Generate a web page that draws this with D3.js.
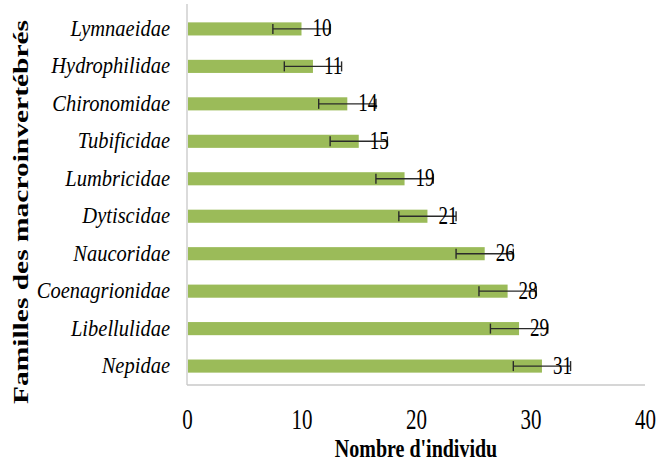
<!DOCTYPE html>
<html>
<head>
<meta charset="utf-8">
<script src="https://cdn.jsdelivr.net/npm/d3@7"></script>
<style>
  html, body { margin: 0; padding: 0; background: #ffffff; }
  svg { display: block; }
  text { font-family: "Liberation Serif", "Times New Roman", serif; fill: #000; }
</style>
</head>
<body>
<svg id="chart" width="657" height="463"></svg>
<script>
const families = ["Lymnaeidae", "Hydrophilidae", "Chironomidae", "Tubificidae", "Lumbricidae",
                  "Dytiscidae", "Naucoridae", "Coenagrionidae", "Libellulidae", "Nepidae"];
const counts = [10, 11, 14, 15, 19, 21, 26, 28, 29, 31];
const errors = [2.5, 2.5, 2.5, 2.5, 2.5, 2.5, 2.5, 2.5, 2.5, 2.5];
const xTicks = [0, 10, 20, 30, 40];
const xTitle = "Nombre d'individu";
const yTitle = "Familles des macroinvertébrés";

const data = families.map((f, i) => ({ name: f, value: counts[i], err: errors[i] }));

const svg = d3.select("#chart");
const mLeft = 187, mRight = 645, mTop = 10, mBottom = 385;

const x = d3.scaleLinear().domain([0, 40]).range([mLeft, mRight]);
const y = d3.scaleBand().domain(families).range([mTop, mBottom]).paddingInner(0.65).paddingOuter(0.33);

// axis lines
svg.append("line").attr("x1", mLeft).attr("x2", mLeft).attr("y1", 4).attr("y2", mBottom)
  .attr("stroke", "#c8c8c8").attr("stroke-width", 1.3);
svg.append("line").attr("x1", mLeft).attr("x2", mRight).attr("y1", mBottom).attr("y2", mBottom)
  .attr("stroke", "#c8c8c8").attr("stroke-width", 1.3);

// bars
svg.append("g").selectAll("rect").data(data).join("rect")
  .attr("x", x(0) + 1)
  .attr("y", d => y(d.name))
  .attr("width", d => x(d.value) - x(0) - 1)
  .attr("height", y.bandwidth())
  .attr("fill", "#9bbb59");

// error bars
const eg = svg.append("g").attr("stroke", "#2a2a2a").attr("stroke-width", 1.4);
data.forEach(d => {
  const cy = y(d.name) + y.bandwidth() / 2;
  const x1 = x(d.value - d.err), x2 = x(d.value + d.err);
  eg.append("line").attr("x1", x1).attr("x2", x2).attr("y1", cy).attr("y2", cy);
  eg.append("line").attr("x1", x1).attr("x2", x1).attr("y1", cy - 5).attr("y2", cy + 5);
  eg.append("line").attr("x1", x2).attr("x2", x2).attr("y1", cy - 5).attr("y2", cy + 5);
});

// value labels
svg.append("g").selectAll("text").data(data).join("text")
  .attr("transform", d => `translate(${x(d.value) + 11},${y(d.name) + y.bandwidth() / 2 + 7.5}) scale(1,1.27)`)
  .attr("font-size", 19)
  .text(d => d.value);

// category labels
svg.append("g").selectAll("text").data(data).join("text")
  .attr("transform", d => `translate(170,${y(d.name) + y.bandwidth() / 2 + 7}) scale(1,1.08)`)
  .attr("text-anchor", "end")
  .attr("font-style", "italic")
  .attr("font-size", 20.5)
  .text(d => d.name);

// x tick labels
const xAxis = d3.axisBottom(x).tickValues(xTicks).tickSize(0).tickPadding(0);
const ax = svg.append("g").call(xAxis);
ax.select(".domain").remove();
ax.selectAll(".tick text")
  .attr("y", 0).attr("dy", 0)
  .attr("transform", "translate(0,429) scale(1,1.38)")
  .attr("font-size", 21)
  .attr("font-family", "Liberation Serif, serif")
  .attr("fill", "#000");

// axis titles
svg.append("text")
  .attr("transform", `translate(${(mLeft + mRight) / 2},457) scale(1,1.28)`)
  .attr("text-anchor", "middle")
  .attr("font-weight", "bold")
  .attr("font-size", 20)
  .text(xTitle);

svg.append("text")
  .attr("transform", "translate(28,212) rotate(-90) scale(1.34,1)")
  .attr("text-anchor", "middle")
  .attr("font-weight", "bold")
  .attr("font-size", 22)
  .text(yTitle);
</script>
</body>
</html>
